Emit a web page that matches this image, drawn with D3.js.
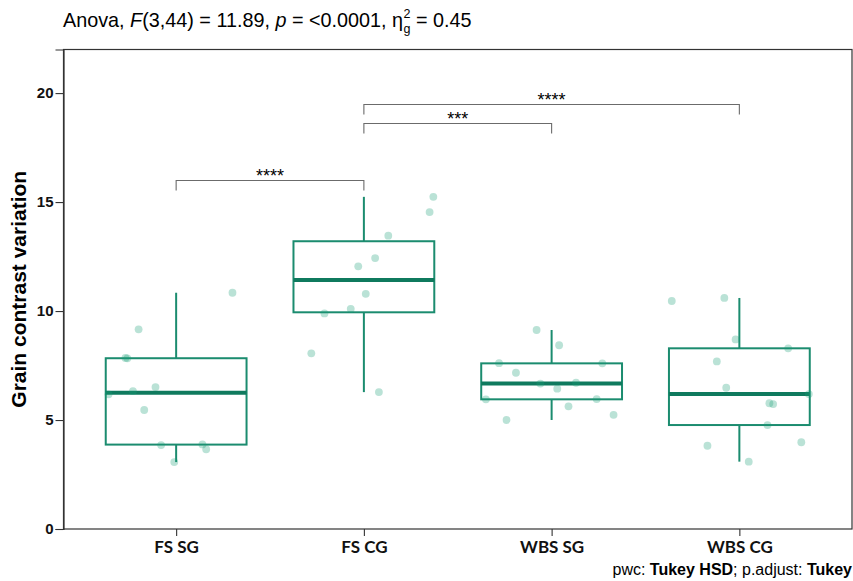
<!DOCTYPE html>
<html>
<head>
<meta charset="utf-8">
<script src="https://cdn.jsdelivr.net/npm/d3@7"></script>
<style>
  html, body { margin: 0; padding: 0; background: #fff; }
  svg { display: block; }
</style>
</head>
<body>
<svg id="chart" width="853" height="581"></svg>
<script>
// ---------------- data ----------------
const groups = ["FS SG", "FS CG", "WBS SG", "WBS CG"];

const fsSG  = [10.84, 9.16, 7.83, 7.85, 6.51, 6.33, 6.18, 5.46, 3.85, 3.88, 3.66, 3.07];
const fsCG  = [15.24, 14.54, 13.46, 12.43, 12.05, 10.79, 10.10, 9.89, 8.06, 6.28];
const wbsSG = [9.13, 8.43, 7.61, 7.60, 7.17, 6.67, 6.71, 6.44, 5.95, 5.96, 5.63, 5.24, 5.00];
const wbsCG = [10.46, 10.60, 8.70, 8.29, 7.69, 6.48, 6.19, 5.77, 5.73, 4.77, 3.98, 3.82, 3.09];

// horizontal jitter of each point, in category-width units
const fsSGJitter  = [0.30, -0.20, -0.26, -0.27, -0.11, -0.23, -0.36, -0.17, -0.08, 0.14, 0.16, -0.01];
const fsCGJitter  = [0.37, 0.35, 0.13, 0.06, -0.03, 0.01, -0.07, -0.21, -0.28, 0.08];
const wbsSGJitter = [-0.08, 0.04, -0.28, 0.27, -0.19, -0.06, 0.13, 0.03, -0.35, 0.24, 0.09, 0.33, -0.24];
const wbsCGJitter = [-0.36, -0.08, -0.02, 0.26, -0.12, -0.07, 0.37, 0.16, 0.18, 0.15, 0.33, -0.17, 0.05];

const yTicks = [0, 5, 10, 15, 20];

// pairwise comparisons (Tukey HSD)
const compFrom   = ["FS SG", "FS CG", "FS CG"];
const compTo     = ["FS CG", "WBS SG", "WBS CG"];
const compY      = [16.0, 18.61, 19.48];
const compLabel  = ["****", "***", "****"];

const subtitleParts = ["pwc: ", "Tukey HSD", "; p.adjust: ", "Tukey"];

// ---------------- layout ----------------
const svg = d3.select("#chart");
const panel = { left: 63.5, right: 852, top: 49.5, bottom: 529 };

// ggplot discrete scale: 4 categories with 0.6 expansion each side
const unit = (panel.right - panel.left) / 4.2;
const x = d3.scalePoint().domain(groups)
  .range([panel.left + 0.6 * unit, panel.right - 0.6 * unit]);
const xc = g => x(g);

const y = d3.scaleLinear().domain([0, 22]).range([panel.bottom, panel.top]);

const teal = "#1b8c6f";
const tealDark = "#0f7a5e";
const tealPoint = "#1B9E77";

const valueSets = [fsSG, fsCG, wbsSG, wbsCG];
const jitterSets = [fsSGJitter, fsCGJitter, wbsSGJitter, wbsCGJitter];

// ---------------- boxplots ----------------
const boxW = 0.75 * unit;
groups.forEach((g, i) => {
  const vals = valueSets[i].slice().sort(d3.ascending);
  const q1 = d3.quantile(vals, 0.25);
  const med = d3.quantile(vals, 0.5);
  const q3 = d3.quantile(vals, 0.75);
  const iqr = q3 - q1;
  const lo = d3.min(vals.filter(v => v >= q1 - 1.5 * iqr));
  const hi = d3.max(vals.filter(v => v <= q3 + 1.5 * iqr));
  const cx = xc(g);
  const gg = svg.append("g");
  gg.append("line").attr("x1", cx).attr("x2", cx).attr("y1", y(q3)).attr("y2", y(hi))
    .attr("stroke", teal).attr("stroke-width", 2);
  gg.append("line").attr("x1", cx).attr("x2", cx).attr("y1", y(q1)).attr("y2", y(lo))
    .attr("stroke", teal).attr("stroke-width", 2);
  gg.append("rect").attr("x", cx - boxW / 2).attr("y", y(q3))
    .attr("width", boxW).attr("height", y(q1) - y(q3))
    .attr("fill", "#fff").attr("stroke", teal).attr("stroke-width", 2);
  gg.append("line").attr("x1", cx - boxW / 2).attr("x2", cx + boxW / 2)
    .attr("y1", y(med)).attr("y2", y(med))
    .attr("stroke", tealDark).attr("stroke-width", 4);
});

// ---------------- points ----------------
groups.forEach((g, i) => {
  svg.append("g").selectAll("circle")
    .data(valueSets[i].map((v, j) => ({ v, j: jitterSets[i][j] })))
    .join("circle")
    .attr("cx", d => xc(g) + d.j * unit)
    .attr("cy", d => y(d.v))
    .attr("r", 3.9)
    .attr("fill", tealPoint)
    .attr("fill-opacity", 0.3);
});

// ---------------- brackets ----------------
const tip = 10;
compFrom.forEach((a, i) => {
  const x1 = xc(a), x2 = xc(compTo[i]), yy = Math.round(y(compY[i])) + 0.5;
  svg.append("path")
    .attr("d", `M${x1},${yy + tip}V${yy}H${x2}V${yy + tip}`)
    .attr("fill", "none").attr("stroke", "#6b6b6b").attr("stroke-width", 1.1);
  svg.append("text")
    .attr("x", (x1 + x2) / 2).attr("y", yy + 1.5)
    .attr("text-anchor", "middle")
    .attr("font-family", "Liberation Sans, Arial, sans-serif")
    .attr("font-size", 18)
    .attr("fill", "#000")
    .text(compLabel[i]);
});

// ---------------- panel border ----------------
svg.append("rect")
  .attr("x", panel.left).attr("y", panel.top)
  .attr("width", panel.right - panel.left).attr("height", panel.bottom - panel.top)
  .attr("fill", "none").attr("stroke", "#333").attr("stroke-width", 1.2);

// ---------------- axes ----------------
const yAxis = d3.axisLeft(y).tickValues(yTicks).tickSize(8).tickPadding(2);
const gy = svg.append("g").attr("transform", `translate(${panel.left},0)`).call(yAxis);
gy.select(".domain").attr("stroke", "#333").attr("stroke-width", 1.2);
gy.selectAll(".tick line").attr("stroke", "#333").attr("stroke-width", 1.1);
gy.selectAll(".tick text")
  .attr("font-family", "Liberation Sans, Arial, sans-serif")
  .attr("font-size", 15).attr("font-weight", "bold").attr("fill", "#111");

const xAxis = d3.axisBottom(x).tickSize(7).tickPadding(5);
const gx = svg.append("g").attr("transform", `translate(0,${panel.bottom})`).call(xAxis);
gx.select(".domain").remove();
gx.selectAll(".tick line").attr("stroke", "#333").attr("stroke-width", 1.1);
gx.selectAll(".tick text")
  .attr("font-family", "Lato, sans-serif")
  .attr("font-size", 17).attr("font-weight", "bold").attr("fill", "#111");

// ---------------- titles ----------------
svg.append("text")
  .attr("transform", `translate(26,${(panel.top + panel.bottom) / 2}) rotate(-90)`)
  .attr("text-anchor", "middle")
  .attr("font-family", "Liberation Sans, Arial, sans-serif")
  .attr("font-size", 21).attr("font-weight", "bold").attr("fill", "#000")
  .text("Grain contrast variation");

const tFont = "Liberation Sans, Arial, sans-serif";
const tBase = 27;
const title = svg.append("text")
  .attr("x", 63).attr("y", tBase)
  .attr("font-family", tFont)
  .attr("font-size", 19.8).attr("fill", "#000");
title.append("tspan").text("Anova, ");
title.append("tspan").attr("font-style", "italic").text("F");
title.append("tspan").text("(3,44) = 11.89, ");
title.append("tspan").attr("font-style", "italic").text("p");
title.append("tspan").text(" = <0.0001, η");
const tEnd = 63 + title.node().getComputedTextLength();

const sup = svg.append("text").attr("x", tEnd + 0.5).attr("y", tBase - 9)
  .attr("font-family", tFont).attr("font-size", 12.5).attr("fill", "#000").text("2");
const sub = svg.append("text").attr("x", tEnd + 0.5).attr("y", tBase + 6)
  .attr("font-family", tFont).attr("font-size", 12.5).attr("fill", "#000").text("g");
const scriptW = Math.max(sup.node().getComputedTextLength(), sub.node().getComputedTextLength());
svg.append("text").attr("x", tEnd + 0.5 + scriptW).attr("y", tBase)
  .attr("font-family", tFont).attr("font-size", 19.8).attr("fill", "#000")
  .attr("xml:space", "preserve")
  .text(" = 0.45");

const foot = svg.append("text")
  .attr("x", 852).attr("y", 575)
  .attr("text-anchor", "end")
  .attr("font-family", "Liberation Sans, Arial, sans-serif")
  .attr("font-size", 16).attr("fill", "#000");
subtitleParts.forEach((t, i) => {
  foot.append("tspan").attr("font-weight", i % 2 ? "bold" : "normal").text(t);
});
</script>
</body>
</html>
